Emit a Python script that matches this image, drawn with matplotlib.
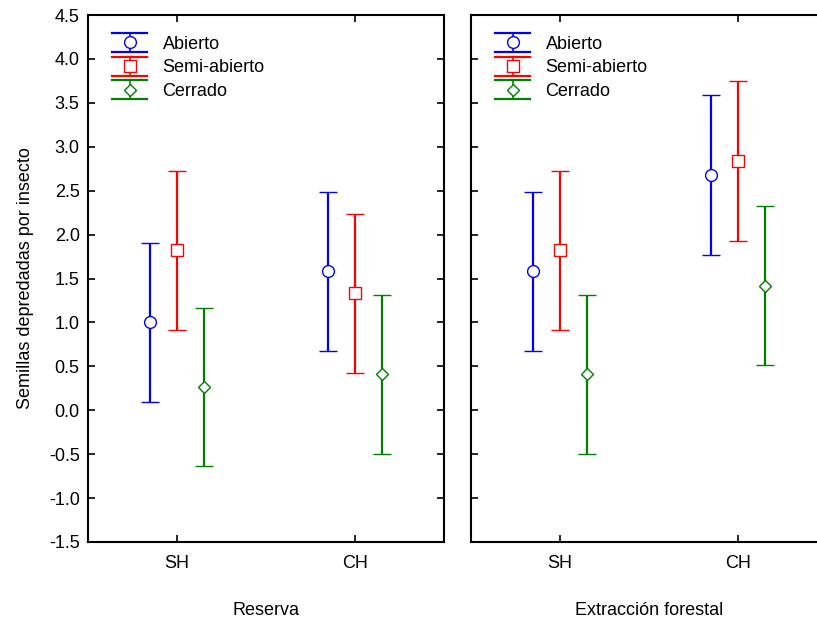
import numpy as np
import matplotlib
matplotlib.use("Agg")
import matplotlib.pyplot as plt
from matplotlib.lines import Line2D
from matplotlib.legend_handler import HandlerBase
from matplotlib.container import ErrorbarContainer

plt.rcParams['font.family'] = ['Liberation Sans', 'DejaVu Sans']

groups = ['SH', 'CH']
series = ['Abierto', 'Semi-abierto', 'Cerrado']
colors = ['#0000ff', '#ff0000', '#008000']
markers = ['o', 's', 'D']

# medias y semiamplitud del intervalo
reserva_mean = [[1.00, 1.58], [1.82, 1.33], [0.26, 0.41]]
reserva_err = [[0.905, 0.91], [0.905, 0.905], [0.90, 0.905]]
extraccion_mean = [[1.58, 2.68], [1.82, 2.84], [0.41, 1.42]]
extraccion_err = [[0.91, 0.91], [0.905, 0.91], [0.905, 0.905]]

panel_titles = ['Reserva', 'Extracción forestal']
offsets = [-0.15, 0.0, 0.15]
FS = 13


class CapHandler(HandlerBase):
    def create_artists(self, legend, orig_handle, xdescent, ydescent,
                       width, height, fontsize, trans):
        line = orig_handle.lines[0]
        c = line.get_markeredgecolor()
        xc = width / 2 - xdescent
        yc = height / 2 - ydescent
        e = 0.75 * height
        arts = [
            Line2D([-xdescent, width - xdescent], [yc + e, yc + e], color=c, lw=1.6),
            Line2D([-xdescent, width - xdescent], [yc - e, yc - e], color=c, lw=1.6),
            Line2D([xc, xc], [yc - e, yc + e], color=c, lw=1.2),
            Line2D([xc], [yc], marker=line.get_marker(), ms=line.get_markersize(),
                   mfc='white', mec=c, mew=1.0, ls='none'),
        ]
        for a in arts:
            a.set_transform(trans)
        return arts


fig = plt.figure(figsize=(8.17, 6.23), dpi=100)
W, H = 817.0, 623.0
ax1 = fig.add_axes([88 / W, (H - 542) / H, 356 / W, 527 / H])
ax2 = fig.add_axes([471 / W, (H - 542) / H, 356 / W, 527 / H])

x = np.arange(len(groups))
for ax, means, errs, title in [(ax1, reserva_mean, reserva_err, panel_titles[0]),
                               (ax2, extraccion_mean, extraccion_err, panel_titles[1])]:
    handles = []
    for i in range(3):
        ms = 8.5 if markers[i] != 'D' else 6.5
        h = ax.errorbar(x + offsets[i], means[i], yerr=errs[i], fmt=markers[i],
                        ms=ms, mfc='white', mec=colors[i], mew=1.0,
                        ecolor=colors[i], elinewidth=1.6, capsize=6.8, capthick=1.6,
                        label=series[i])
        handles.append(h)
    ax.set_xlim(-0.5, 1.5)
    ax.set_ylim(-1.5, 4.5)
    ax.set_yticks(np.arange(-1.5, 4.51, 0.5))
    ax.set_xticks(x)
    ax.set_xticklabels(groups)
    ax.tick_params(direction='in', top=True, right=True, length=5, width=1.2,
                   labelsize=FS)
    ax.tick_params(axis='x', pad=9)
    ax.tick_params(axis='y', pad=6)
    for s in ax.spines.values():
        s.set_linewidth(1.5)
    ax.set_xlabel(title, fontsize=FS, labelpad=22)
    ax.legend(handles, series, loc='upper left', bbox_to_anchor=(0.032, 0.985),
              frameon=False, fontsize=FS, handlelength=1.95, handletextpad=0.85,
              labelspacing=0.38, borderaxespad=0.3,
              handler_map={ErrorbarContainer: CapHandler()})

ax1.yaxis.set_major_formatter(matplotlib.ticker.FormatStrFormatter('%.1f'))
ax2.tick_params(labelleft=False)
ax1.set_ylabel('Semillas depredadas por insecto', fontsize=FS, labelpad=11)

fig.savefig('out.png', dpi=100)
